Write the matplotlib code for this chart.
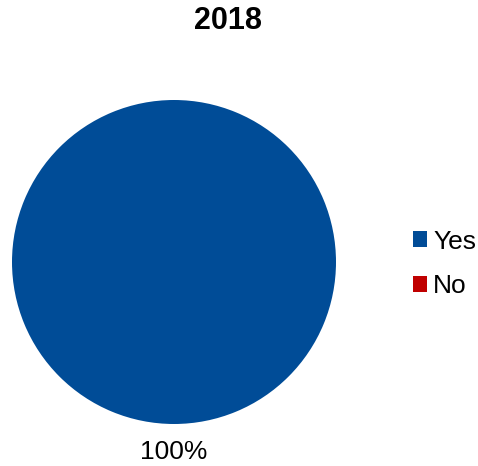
import numpy as np
import matplotlib
matplotlib.use("Agg")
import matplotlib.pyplot as plt
from matplotlib.patches import Patch

plt.rcParams['font.family'] = ['Liberation Sans', 'DejaVu Sans']

title = "2018"
categories = ["Yes", "No"]
values = [100, 0]
colors = ["#004C97", "#C00000"]

W, H = 478, 466
fig = plt.figure(figsize=(W / 100, H / 100), dpi=100)

cx, cy, r = 174, 262, 162
ax = fig.add_axes([(cx - r) / W, (H - cy - r) / H, 2 * r / W, 2 * r / H])
wedges, _ = ax.pie(values, colors=colors, startangle=90, counterclock=False,
                   radius=1.0, wedgeprops=dict(linewidth=0))
ax.set_xlim(-1, 1)
ax.set_ylim(-1, 1)
ax.set_aspect('equal')
ax.axis('off')

total = sum(values)
for w, v in zip(wedges, values):
    if v <= 0:
        continue
    ang = np.deg2rad((w.theta1 + w.theta2) / 2)
    d = 1.175
    ax.text(d * np.cos(ang), d * np.sin(ang), f"{v / total * 100:.0f}%",
            ha='center', va='center', fontsize=19, color='#000000', clip_on=False)

fig.text(228 / W, 1 - 21 / H, title, ha='center', va='center',
         fontsize=22, fontweight='bold')

handles = [Patch(facecolor=c, edgecolor='none') for c in colors]
fs = 19
fpx = fs * 100 / 72
fig.legend(handles, categories, loc='center left', bbox_to_anchor=(413 / W, 1 - 264 / H),
           frameon=False, fontsize=fs, handlelength=14 / fpx, handleheight=14 / fpx,
           handletextpad=6 / fpx, labelspacing=0.79, borderpad=0, borderaxespad=0)

fig.savefig("out.png", dpi=100)
